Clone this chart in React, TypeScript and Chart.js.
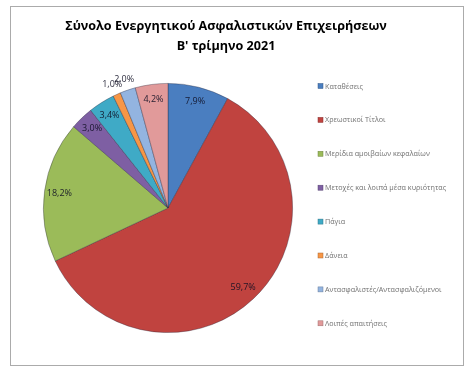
import React, { useEffect, useRef } from "react";
import { Chart, registerables } from "chart.js";

Chart.register(...registerables);

const titleLines = ["Σύνολο Ενεργητικού Ασφαλιστικών Επιχειρήσεων", "Β' τρίμηνο 2021"];
const categories = [
  "Καταθέσεις",
  "Χρεωστικοί Τίτλοι",
  "Μερίδια αμοιβαίων κεφαλαίων",
  "Μετοχές και λοιπά μέσα κυριότητας",
  "Πάγια",
  "Δάνεια",
  "Αντασφαλιστές/Αντασφαλιζόμενοι",
  "Λοιπές απαιτήσεις",
];
const shares = [7.9, 59.7, 18.2, 3.0, 3.4, 1.0, 2.0, 4.2];
const colors = ["#4A7EC0", "#C0433F", "#9BBB59", "#7E5FA3", "#3FAAC6", "#F79646", "#93B4E0", "#E19A9A"];

function shade(hex: string, f: number) {
  const n = parseInt(hex.slice(1), 16);
  const r = Math.round(((n >> 16) & 255) * f);
  const g = Math.round(((n >> 8) & 255) * f);
  const b = Math.round((n & 255) * f);
  return `rgb(${Math.min(255, r)},${Math.min(255, g)},${Math.min(255, b)})`;
}

const decorPlugin = {
  id: "decor",
  afterDraw(chart: any) {
    const ctx = chart.ctx as CanvasRenderingContext2D;
    ctx.save();
    // title
    ctx.fillStyle = "#000";
    ctx.font = "bold 12.6px 'Open Sans'";
    ctx.textAlign = "center";
    ctx.textBaseline = "alphabetic";
    ctx.fillText(titleLines[0], 226, 30);
    ctx.fillText(titleLines[1], 226, 50);

    // percentage labels
    const meta = chart.getDatasetMeta(0);
    const data = chart.data.datasets[0].data as number[];
    ctx.font = "9px 'Open Sans'";
    ctx.fillStyle = "rgba(15,15,35,0.9)";
    ctx.textBaseline = "middle";
    meta.data.forEach((arc: any, i: number) => {
      const p = arc.getProps(["startAngle", "endAngle", "outerRadius", "x", "y"], true);
      const mid = (p.startAngle + p.endAngle) / 2;
      const f = data[i] < 2.5 ? 1.09 : 0.88;
      const r = p.outerRadius * f;
      const x = p.x + Math.cos(mid) * r;
      const y = p.y + Math.sin(mid) * r;
      ctx.fillText(data[i].toFixed(1).replace(".", ",") + "%", x, y);
    });

    // legend
    ctx.font = "7.2px 'Open Sans'";
    ctx.textAlign = "left";
    chart.data.labels.forEach((lab: string, i: number) => {
      const y = 86 + i * 33.9;
      ctx.fillStyle = colors[i];
      ctx.fillRect(318, y - 2.5, 5, 5);
      ctx.strokeStyle = shade(colors[i], 0.7);
      ctx.lineWidth = 0.5;
      ctx.strokeRect(318, y - 2.5, 5, 5);
      ctx.fillStyle = "#707070";
      ctx.fillText(lab, 325, y + 0.5);
    });
    ctx.restore();
  },
};

export default function App() {
  const ref = useRef<HTMLCanvasElement>(null);
  useEffect(() => {
    if (!ref.current) return;
    const chart = new Chart(ref.current, {
      type: "pie",
      data: {
        labels: categories,
        datasets: [
          {
            data: shares,
            backgroundColor: (c: any) => {
              const i = c.dataIndex;
              const base = colors[i];
              const a = c.element;
              if (!a || !c.chart.chartArea) return base;
              const { x, y, outerRadius } = a.getProps(["x", "y", "outerRadius"], true);
              if (!outerRadius) return base;
              const g = c.chart.ctx.createRadialGradient(x, y, 0, x, y, outerRadius);
              g.addColorStop(0, base);
              g.addColorStop(0.85, base);
              g.addColorStop(0.97, shade(base, 0.85));
              g.addColorStop(1, shade(base, 0.7));
              return g;
            },
            borderColor: "rgba(40,40,60,0.45)",
            borderWidth: 0.8,
          },
        ],
      },
      options: {
        responsive: false,
        animation: false,
        layout: { padding: { left: 43, right: 180, top: 83, bottom: 45 } },
        plugins: {
          legend: { display: false },
          title: { display: false },
          tooltip: { enabled: false },
        },
      },
      plugins: [decorPlugin],
    });
    return () => chart.destroy();
  }, []);
  return (
    <div style={{ position: "fixed", left: 0, top: 0, width: 473, height: 378, background: "#fff" }}>
      <div
        style={{
          position: "absolute",
          left: 10,
          top: 6,
          width: 452,
          height: 358,
          border: "1px solid #ababab",
        }}
      />
      <canvas ref={ref} width={473} height={378} style={{ position: "absolute", left: 0, top: 0 }} />
    </div>
  );
}
